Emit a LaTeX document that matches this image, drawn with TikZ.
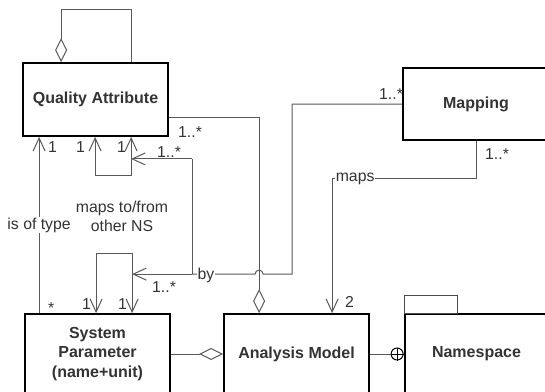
\documentclass[tikz,border=0pt]{standalone}
\usepackage{fontspec}
\setmainfont{Liberation Sans}
\usetikzlibrary{arrows.meta,calc}

\tikzset{
  umlclass/.style={draw=black,line width=1.8pt,text=black!80,align=center,
    font=\fontsize{16}{19.5}\selectfont\bfseries,inner sep=0pt},
  conn/.style={draw=black!65,line width=1pt},
  nav/.style={-{Straight Barb[length=13pt,width=12pt]}},
  navboth/.style={{Straight Barb[length=13pt,width=12pt]}-{Straight Barb[length=13pt,width=12pt]}},
  agg/.style={{Diamond[open,length=24pt,width=12pt]}-},
  lbl/.style={text=black!80,font=\fontsize{15.8}{19}\selectfont,inner sep=1pt},
  mult/.style={lbl,anchor=base west,inner sep=0pt},
}

\begin{document}
\begin{tikzpicture}[x=1pt,y=-1pt]
  \useasboundingbox (0,0) rectangle (545,391);
  \clip (0,0) rectangle (545,391);

  % Classes
  \node[umlclass,minimum width=145pt,minimum height=73pt] (qa) at (95.5,99.5) {Quality Attribute};
  \node[umlclass,minimum width=146pt,minimum height=72pt] (map) at (476,104) {Mapping};
  \node[umlclass,minimum width=145pt,minimum height=80pt] (sp) at (97.5,354) {System\\Parameter\\(name+unit)};
  \node[umlclass,minimum width=145pt,minimum height=80pt] (am) at (296.5,354) {Analysis Model};
  \node[umlclass,minimum width=143pt,minimum height=80pt] (ns) at (476.5,354) {Namespace};
  % Namespace tab
  \draw[black!70,line width=1.2pt] (ns.north west) rectangle ++(53,-18);

  % Quality Attribute: self aggregation
  \draw[conn,agg] ($(qa.north west)+(39,0)$) -- ++(0,-53) -| ($(qa.north west)+(109,0)$);

  % Quality Attribute -> Analysis Model
  \coordinate (amAgg) at ($(am.north west)+(36,0)$);
  \draw[conn,agg] (amAgg) |- ($(qa.south east)+(0,-19)$);
  \node[mult] (m1) at (178,137) {1..*};

  % Quality Attribute: maps to/from other NS
  \coordinate (qaL) at ($(qa.south west)+(73,39)$);
  \coordinate (qaR) at ($(qa.south west)+(109,39)$);
  \draw[conn,navboth] (qa.south west -| qaL) -- (qaL) -- (qaR) -- (qa.south west -| qaR);
  \node[mult] (m2) at (76,152) {1};
  \node[mult] (m3) at (117,152) {1};

  % System Parameter: maps to/from other NS
  \coordinate (spL) at ($(sp.north west)+(72,-60)$);
  \coordinate (spR) at ($(sp.north west)+(108,-60)$);
  \draw[conn,navboth] (sp.north west -| spL) -- (spL) -- (spR) -- (sp.north west -| spR);
  \node[lbl,align=center] (nsassoc) at (122,216) {maps to/from\\other NS};
  \node[mult] (m4) at (82,309) {1};
  \node[mult] (m5) at (118,309) {1};

  % is of type
  \draw[conn,nav] ($(sp.north west)+(15,0)$) -- node[lbl,fill=white] (istype) {is of type} ($(qa.south west)+(17,0)$);
  \node[mult] (m6) at (48,152) {1};
  \node[mult] (m7) at (48,313) {*};

  % Mapping: by
  \coordinate (byJ) at ($(spR)+(60,21)$);
  \coordinate (byT) at ($(qaR)+(61,-17)$);
  \draw[conn] (map.west) -| ($(byJ)+(100,0)$) -- ($(byJ -| amAgg)+(4,0)$)
    arc[start angle=0,end angle=-180,radius=4] -- (byJ);
  \draw[conn,nav] (byJ) -- (byJ -| spR);
  \draw[conn] (byJ) -- (byT);
  \draw[conn,nav] (byT) -- (byT -| qaR);
  \node[lbl,fill=white] (bylbl) at (206,275) {by};
  \node[mult] (m8) at (379,99) {1..*};
  \node[mult] (m9) at (157,157) {1..*};
  \node[mult] (m10) at (152,292) {1..*};

  % Mapping -> Analysis Model
  \draw[conn,nav] (map.south) -- ++(0,38) -| node[lbl,fill=white,pos=0.42] (mapslbl) {maps} ($(am.north west)+(109,0)$);
  \node[mult] (m11) at (485,159) {1..*};
  \node[mult] (m12) at (345,307) {2};

  % System Parameter - Analysis Model
  \draw[conn,agg] (am.west) -- (sp.east);

  % Analysis Model - Namespace
  \node[circle,draw=black,line width=1pt,minimum size=12pt,inner sep=0pt] (nest) at ($(ns.west)+(-7,0)$) {};
  \draw[black,line width=1pt] (nest.north) -- (nest.south) (nest.west) -- (nest.east);
  \draw[conn] (am.east) -- (nest.west);
\end{tikzpicture}
\end{document}
